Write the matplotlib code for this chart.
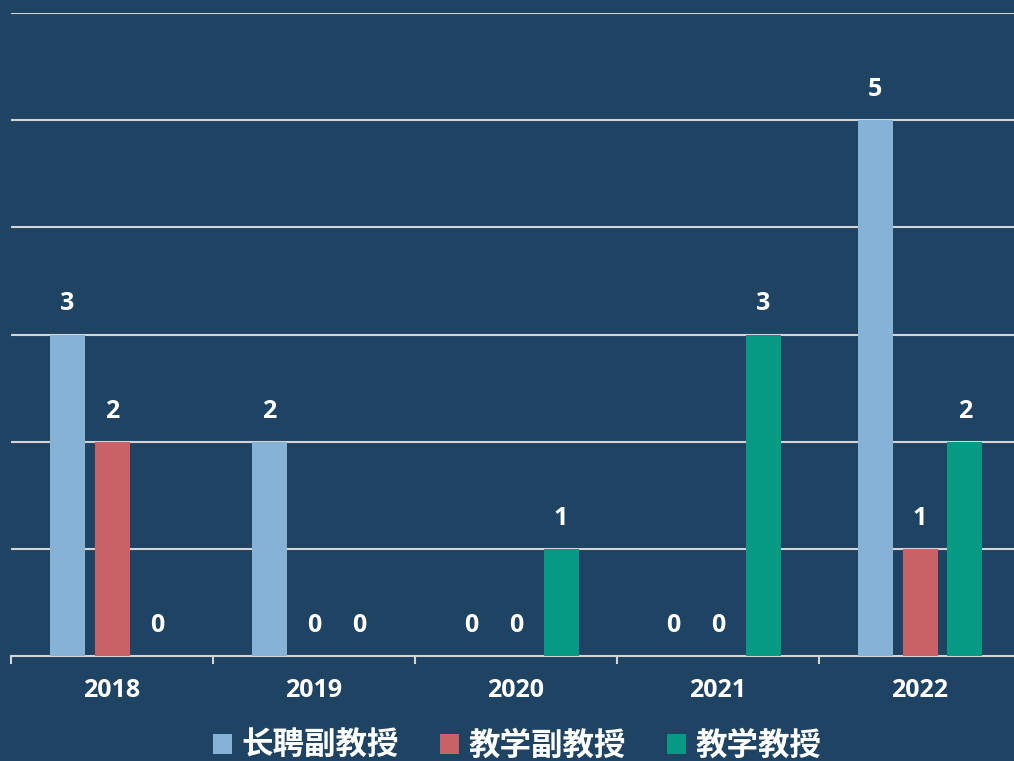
import matplotlib
matplotlib.use("Agg")
import matplotlib.pyplot as plt
import numpy as np
from matplotlib.patches import Patch

years = ["2018", "2019", "2020", "2021", "2022"]
series_names = ["长聘副教授", "教学副教授", "教学教授"]
changpin = [3, 2, 0, 0, 5]
jiaoxue_fu = [2, 0, 0, 0, 1]
jiaoxue_jiao = [0, 0, 1, 3, 2]
values = [changpin, jiaoxue_fu, jiaoxue_jiao]
colors = ["#86b2d6", "#c86266", "#069a85"]

plt.rcParams['font.family'] = ['Noto Sans CJK SC', 'DejaVu Sans']
num_font = ['Open Sans', 'Noto Sans CJK SC']
bg = "#1f4363"

fig = plt.figure(figsize=(10.14, 7.61), dpi=100, facecolor=bg)
W, H = 1014, 761
ax = fig.add_axes([11 / W, (H - 656) / H, 1010 / W, (656 - 13) / H])
ax.set_facecolor(bg)

x = np.arange(len(years))
bw = 35 / 202
step = 45 / 202
for i, (vals, c) in enumerate(zip(values, colors)):
    pos = x + (i - 1) * step
    ax.bar(pos, vals, width=bw, color=c, zorder=3)
    for p, v in zip(pos, vals):
        ax.annotate(str(v), (p, v), xytext=(0, 22), textcoords="offset points",
                    ha="center", va="center", color="white", fontsize=18,
                    fontweight="bold", family=num_font, zorder=4)

ax.set_xlim(-0.5, len(years) - 0.5)
ax.set_ylim(0, 6)
ax.set_yticks(range(1, 7))
ax.yaxis.grid(True, color="#d4d4d4", linewidth=1.5, zorder=0)
ax.tick_params(axis="y", left=False, labelleft=False)
for s in ["left", "right", "top"]:
    ax.spines[s].set_visible(False)
ax.spines["bottom"].set_color("#d4d4d4")
ax.spines["bottom"].set_linewidth(1.5)

ax.set_xticks(x)
ax.set_xticklabels(years, color="white", fontsize=18, fontweight="bold", family=num_font)
ax.tick_params(axis="x", which="major", length=0, pad=16)
ax.set_xticks(np.arange(-0.5, len(years), 1), minor=True)
ax.tick_params(axis="x", which="minor", length=6, width=1.5, color="#d4d4d4", direction="out")

handles = [Patch(facecolor=c, edgecolor="none", label=n) for c, n in zip(colors, series_names)]
leg = fig.legend(handles=handles, loc="center", bbox_to_anchor=(517 / W, 1 - 746 / H),
                 ncol=3, frameon=False, fontsize=22.7, handlelength=0.6, handleheight=0.6,
                 handletextpad=0.3, columnspacing=1.3, borderpad=0, borderaxespad=0)
for t in leg.get_texts():
    t.set_color("white")
    t.set_fontweight("bold")

fig.savefig("out.png", dpi=100, facecolor=bg)
